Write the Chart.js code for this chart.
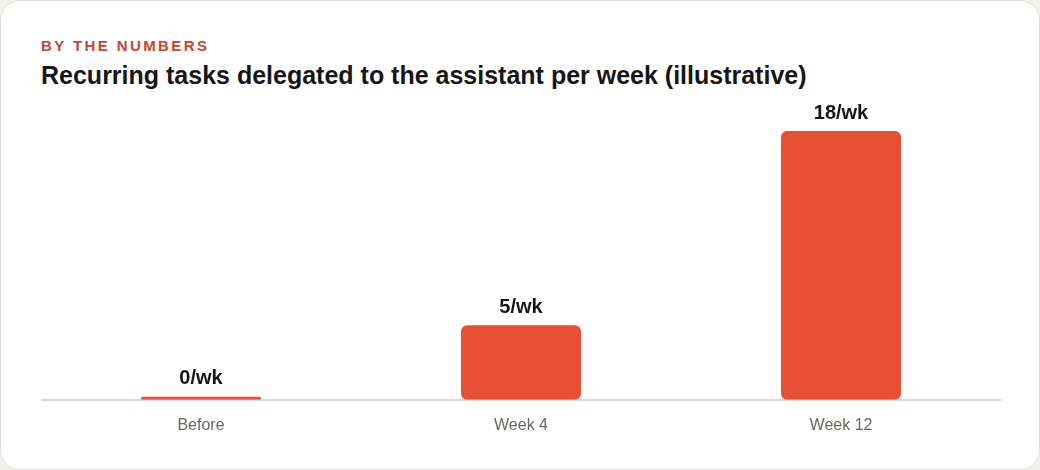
<!DOCTYPE html>
<html>
<head>
<meta charset="utf-8">
<script src="https://cdn.jsdelivr.net/npm/chart.js@4/dist/chart.umd.min.js"></script>
<style>
  html, body { margin: 0; padding: 0; background: #f3f1ed; }
  body { width: 1040px; height: 470px; position: relative; overflow: hidden; font-family: "Liberation Sans", Arial, sans-serif; }
  .card { position: absolute; left: 0; top: 0; width: 1038px; height: 468px; background: #fff; border: 1px solid #e2dfda; border-radius: 20px; }
  .eyebrow { position: absolute; left: 40px; top: 36px; font-size: 15px; font-weight: bold; letter-spacing: 2.4px; color: #c8442f; }
  .title { position: absolute; left: 40px; top: 60px; font-size: 25px; font-weight: bold; color: #161616; }
  .chart-box { position: absolute; left: 40px; top: 100px; width: 960px; height: 342px; }
</style>
</head>
<body>
<div class="card">
  <div class="eyebrow">BY THE NUMBERS</div>
  <div class="title">Recurring tasks delegated to the assistant per week (illustrative)</div>
  <div class="chart-box"><canvas id="chart"></canvas></div>
</div>
<script>
const categories = ['Before', 'Week 4', 'Week 12'];
const tasksPerWeek = [0, 5, 18];
const valueLabels = ['0/wk', '5/wk', '18/wk'];

// Werte über den Balken schreiben
const valueLabelPlugin = {
    id: 'valueLabels',
    afterDatasetsDraw(chart) {
        const ctx = chart.ctx;
        const meta = chart.getDatasetMeta(0);
        ctx.save();
        ctx.font = 'bold 20px "Liberation Sans", Arial, sans-serif';
        ctx.fillStyle = '#161616';
        ctx.textAlign = 'center';
        ctx.textBaseline = 'bottom';
        meta.data.forEach((bar, i) => {
            ctx.fillText(valueLabels[i], bar.x, bar.y - 8);
        });
        ctx.restore();
    }
};

new Chart(document.getElementById('chart'), {
    type: 'bar',
    data: {
        labels: categories,
        datasets: [{
            data: tasksPerWeek,
            backgroundColor: '#e85035',
            borderRadius: 6,
            borderSkipped: false,
            minBarLength: 3,
            barPercentage: 0.375,
            categoryPercentage: 1
        }]
    },
    options: {
        responsive: true,
        maintainAspectRatio: false,
        animation: false,
        layout: { padding: { top: 30 } },
        plugins: {
            legend: { display: false },
            tooltip: { enabled: false }
        },
        scales: {
            x: {
                grid: { display: false },
                border: { display: true, color: '#dcd9d4', width: 2 },
                ticks: {
                    color: '#6b665f',
                    padding: 8,
                    font: { family: '"Liberation Sans", Arial, sans-serif', size: 16 }
                }
            },
            y: {
                display: false,
                beginAtZero: true,
                max: 18
            }
        }
    },
    plugins: [valueLabelPlugin]
});
</script>
</body>
</html>
